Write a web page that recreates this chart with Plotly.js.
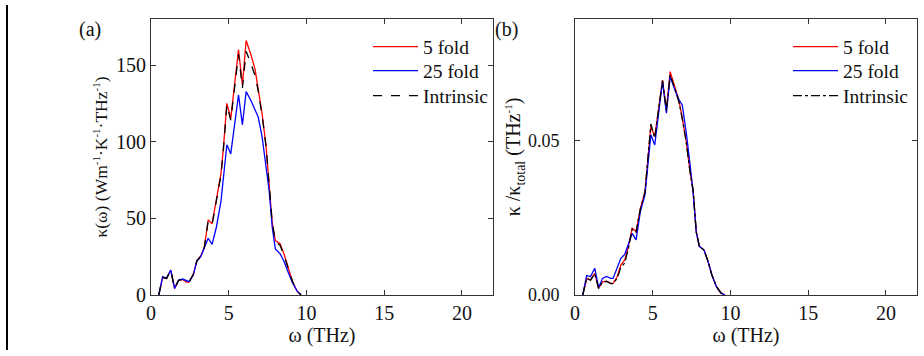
<!DOCTYPE html>
<html><head><meta charset="utf-8">
<script src="https://cdn.plot.ly/plotly-3.0.1.min.js"></script>
<style>html,body{margin:0;padding:0;background:#fff}#c{width:924px;height:356px}</style>
</head><body><div id="c"></div>
<script>
// frequency grid (THz)
const omega = [0.5, 0.75, 1.0, 1.27, 1.52, 1.77, 2.03, 2.3, 2.45, 2.72, 2.95, 3.2, 3.43, 3.68, 3.93, 4.2, 4.5, 4.65, 4.88, 5.13, 5.37, 5.63, 5.88, 6.12, 6.42, 6.7, 6.9, 7.15, 7.4, 7.6, 7.8, 8.0, 8.3, 8.55, 8.8, 9.1, 9.4, 9.65];
// panel (a): kappa(omega)
const kappa5 = [0, 11.5, 10.8, 16.3, 4.2, 9.5, 10.2, 8.3, 8.5, 13.5, 22.5, 25.5, 31, 49, 46.5, 63, 79, 95, 125, 115, 138, 160, 137, 166, 157, 147, 134, 118, 97, 73, 47, 35.5, 33.5, 27, 19, 9, 2.5, 0];
const kappa25 = [0, 12, 10.9, 16.3, 4.3, 9.8, 10.4, 9.1, 8.7, 13, 22, 25, 30.4, 37, 33, 44, 61, 77, 98, 92, 112, 130.5, 111, 132.6, 127, 121, 116, 103, 85, 68, 44, 30, 27, 22, 15.5, 8, 2.5, 0];
const kappaInt = [0, 11.5, 10.8, 16.3, 4.2, 9.5, 10.2, 8.3, 8.5, 13.3, 22.3, 25.3, 31, 48.5, 46, 62.5, 78, 94, 124, 114, 136, 157, 135, 159, 151, 143, 133, 117, 97, 73, 47, 35, 32.5, 26, 18.5, 8.8, 2.5, 0];
// panel (b): normalized kappa
const norm5 = [0, 0.0054, 0.0049, 0.0070, 0.0022, 0.0043, 0.0045, 0.0038, 0.0038, 0.0060, 0.0097, 0.0114, 0.0157, 0.0217, 0.0206, 0.0280, 0.0335, 0.0422, 0.0548, 0.0514, 0.0606, 0.0698, 0.0601, 0.0725, 0.0676, 0.0628, 0.0575, 0.0500, 0.0400, 0.0340, 0.0205, 0.0158, 0.0146, 0.0110, 0.0066, 0.0027, 0.0006, 0];
const norm25 = [0, 0.0063, 0.0060, 0.0087, 0.0024, 0.0054, 0.0060, 0.0054, 0.0054, 0.0087, 0.0119, 0.0132, 0.0162, 0.0200, 0.0179, 0.0270, 0.0325, 0.0400, 0.0520, 0.0487, 0.0595, 0.0693, 0.0590, 0.0709, 0.0666, 0.0633, 0.0617, 0.0530, 0.0425, 0.0330, 0.0205, 0.0158, 0.0146, 0.0110, 0.0066, 0.0027, 0.0006, 0];
const normInt = [0, 0.0054, 0.0048, 0.0069, 0.0021, 0.0042, 0.0044, 0.0037, 0.0037, 0.0055, 0.0090, 0.0104, 0.0150, 0.0214, 0.0204, 0.0278, 0.0333, 0.0420, 0.0555, 0.0510, 0.0603, 0.0696, 0.0598, 0.0714, 0.0670, 0.0624, 0.0572, 0.0498, 0.0400, 0.0340, 0.0205, 0.0158, 0.0146, 0.0110, 0.0066, 0.0027, 0.0006, 0];
const xTicks = [0, 5, 10, 15, 20];
const names = ['5 fold', '25 fold', 'Intrinsic'];

const W = 924, H = 356;
const fam = 'Liberation Serif, Times New Roman, serif';
const font = {family: fam, size: 20, color: '#111'};
const titleFont = {family: fam, size: 17.5, color: '#111'};
const legFont = {family: fam, size: 19.5, color: '#111'};
const smallTick = {family: fam, size: 18, color: '#111'};
const sup = s => '<sup><span style="font-size:11px">' + s + '</span></sup>';
const lw = 1.3;
const traces = [
  {x: omega, y: kappa5, name: names[0], line: {color: '#ff0000', width: lw}, xaxis: 'x', yaxis: 'y', legend: 'legend'},
  {x: omega, y: kappa25, name: names[1], line: {color: '#0000ff', width: lw}, xaxis: 'x', yaxis: 'y', legend: 'legend2'},
  {x: omega, y: kappaInt, name: names[2], line: {color: '#000000', width: lw, dash: 'dash'}, xaxis: 'x', yaxis: 'y', legend: 'legend3'},
  {x: omega, y: norm5, name: names[0], line: {color: '#ff0000', width: lw}, xaxis: 'x2', yaxis: 'y2', legend: 'legend4'},
  {x: omega, y: norm25, name: names[1], line: {color: '#0000ff', width: lw}, xaxis: 'x2', yaxis: 'y2', legend: 'legend5'},
  {x: omega, y: normInt, name: names[2], line: {color: '#000000', width: lw, dash: 'dashdot'}, xaxis: 'x2', yaxis: 'y2', legend: 'legend6'}
].map(t => Object.assign({type: 'scatter', mode: 'lines', showlegend: true}, t));

const yDom = [(H - 295) / H, (H - 19) / H];
const axBase = {showline: true, mirror: 'ticks', linecolor: '#333', linewidth: 1, ticks: 'inside', ticklen: 5, tickcolor: '#333', showgrid: false, zeroline: false, tickfont: font};
const rowsY = [47, 71, 96];
const legAt = (px, py) => ({x: px / W, xanchor: 'left', y: (H - py) / H, yanchor: 'middle', bgcolor: 'rgba(0,0,0,0)', font: legFont, itemwidth: 45});
const layout = {
  width: W, height: H, margin: {l: 0, r: 0, t: 0, b: 0},
  paper_bgcolor: '#fff', plot_bgcolor: '#fff', font: font,
  xaxis: Object.assign({}, axBase, {domain: [151 / W, 493 / W], range: [0, 22], tickvals: xTicks, anchor: 'y', title: {text: 'ω (THz)', font: font, standoff: 2}}),
  yaxis: Object.assign({}, axBase, {domain: yDom, range: [0, 180], tickvals: [0, 50, 100, 150], anchor: 'x', title: {text: 'κ(ω) (Wm' + sup('-1') + '·K' + sup('-1') + '·THz' + sup('-1') + ')', font: titleFont, standoff: 3}}),
  xaxis2: Object.assign({}, axBase, {domain: [575 / W, 917 / W], range: [0, 22], tickvals: xTicks, anchor: 'y2', title: {text: 'ω (THz)', font: font, standoff: 2}}),
  yaxis2: Object.assign({}, axBase, {domain: yDom, range: [0, 0.0896], tickvals: [0, 0.05], tickformat: '.2f', tickfont: smallTick, anchor: 'x2', ticklabelstandoff: 11, title: {text: 'κ /κ<sub>total</sub> (THz' + sup('-1') + ')', font: font, standoff: 1}}),
  legend: legAt(368, rowsY[0]),
  legend2: legAt(368, rowsY[1]),
  legend3: legAt(368, rowsY[2]),
  legend4: legAt(788, rowsY[0]),
  legend5: legAt(788, rowsY[1]),
  legend6: legAt(788, rowsY[2]),
  annotations: [
    {text: '(a)', xref: 'paper', yref: 'paper', x: 90 / W, y: (H - 29) / H, xanchor: 'center', yanchor: 'middle', showarrow: false, font: font},
    {text: '(b)', xref: 'paper', yref: 'paper', x: 506 / W, y: (H - 29) / H, xanchor: 'center', yanchor: 'middle', showarrow: false, font: font}
  ],
  shapes: [
    {type: 'line', xref: 'paper', yref: 'paper', x0: 7 / W, x1: 7 / W, y0: (H - 350) / H, y1: (H - 5) / H, line: {color: '#000', width: 2}}
  ]
};
Plotly.newPlot('c', traces, layout, {staticPlot: true, displayModeBar: false});
</script>
</body></html>
